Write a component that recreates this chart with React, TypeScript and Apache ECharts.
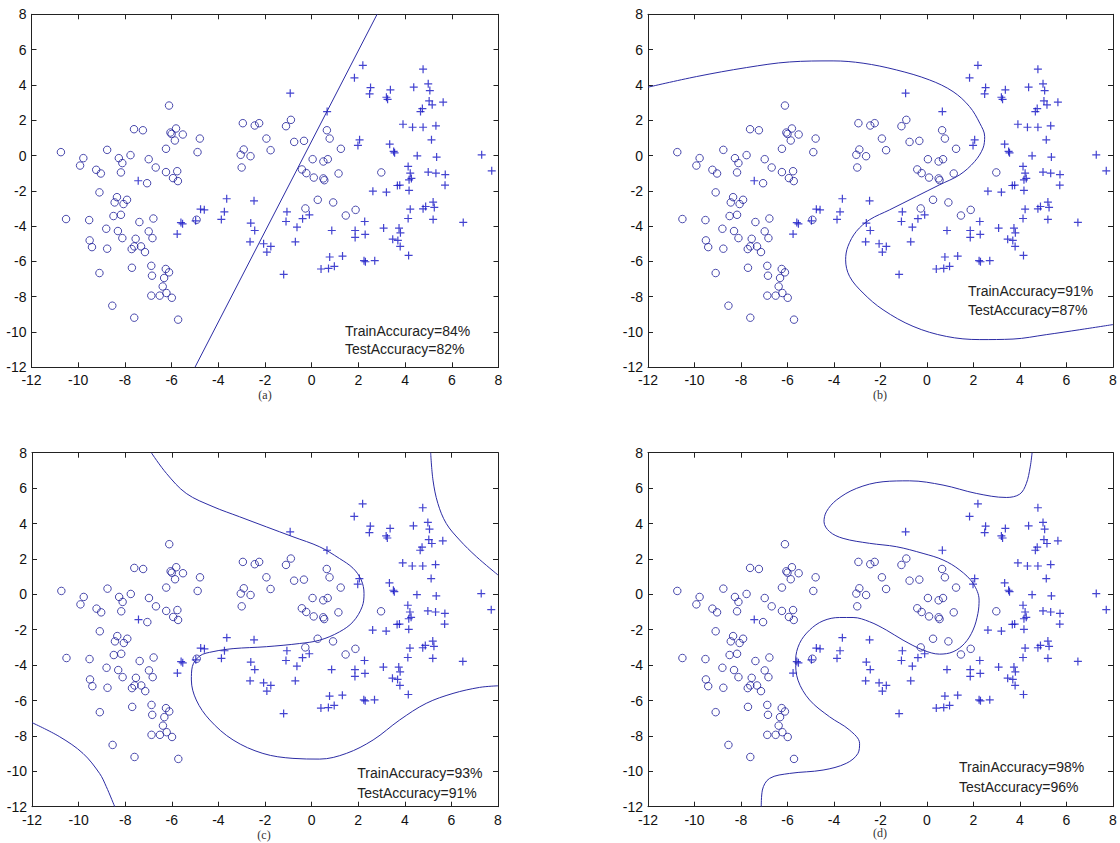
import React, { useEffect, useRef } from "react";
import * as echarts from "echarts";

// ---- data ----
const CIRCLES: [number, number][] = [
  [-10.74, 0.19], [-10.52, -3.6], [-9.78, -0.15], [-9.92, -0.57], [-9.23, -0.81], [-9.03, -1.02],
  [-8.76, 0.32], [-9.09, -2.09], [-9.53, -3.66], [-9.51, -4.81], [-9.41, -5.19], [-9.09, -6.66],
  [-8.54, -8.51], [-8.76, -5.28], [-8.8, -4.15], [-8.49, -3.43], [-8.34, -2.36], [-8.44, -2.66],
  [-8.17, -3.36], [-8.06, -2.75], [-7.91, -2.51], [-8.3, -4.28], [-8.11, -4.68], [-8.26, -0.15],
  [-8.11, -0.43], [-8.17, -0.96], [-7.76, 0.02], [-7.61, 1.49], [-7.23, 1.43], [-6.98, -0.21],
  [-6.68, -0.68], [-7.05, -1.57], [-7.38, -3.77], [-6.78, -3.57], [-6.98, -4.3], [-6.82, -4.68],
  [-7.54, -4.72], [-7.6, -5.15], [-7.71, -5.3], [-7.31, -5.15], [-7.14, -5.47], [-7.7, -6.36],
  [-6.87, -6.25], [-6.84, -6.81], [-6.87, -7.94], [-6.51, -7.94], [-6.38, -7.42], [-6.32, -6.94],
  [-6.25, -6.43], [-6.11, -6.62], [-6.22, -7.79], [-5.99, -8.06], [-7.6, -9.19], [-5.72, -9.3],
  [-6.11, 2.83], [-6.05, 1.3], [-6.0, 1.22], [-5.81, 1.53], [-5.52, 1.19], [-5.86, 0.85],
  [-6.24, 0.38], [-6.24, -0.94], [-5.76, -0.89], [-5.94, -1.28], [-5.73, -1.45], [-4.79, 0.96],
  [-4.89, 0.19], [-4.93, -3.64], [-2.95, 1.83], [-2.91, 0.34], [-3.04, 0.04], [-2.62, -0.04],
  [-3.0, -0.68], [-2.44, 1.7], [-2.25, 1.83], [-1.94, 0.96], [-1.76, 0.3], [-1.1, 1.66],
  [-0.89, 2.02], [-0.75, 0.77], [-0.33, 0.83], [0.04, -0.21], [-0.42, -0.79], [-0.23, -1.0],
  [0.09, -1.25], [0.5, -0.34], [0.69, -0.21], [0.54, -1.4], [0.5, -1.3], [0.65, 1.43],
  [0.77, 0.96], [1.25, 0.38], [1.15, -1.02], [-0.27, -3.0], [0.26, -2.51], [0.92, -2.66],
  [1.46, -3.4], [1.88, -3.08], [2.98, -0.96],
];

const PLUSES: [number, number][] = [
  [-7.43, -1.43], [-5.76, -4.45], [-5.53, -3.87], [-5.6, -3.8], [-4.97, -3.7], [-4.76, -3.04],
  [-4.6, -3.08], [-3.87, -3.62], [-3.74, -3.19], [-3.64, -2.45], [-2.47, -2.57], [-2.61, -3.83],
  [-2.44, -4.25], [-2.64, -4.89], [-2.06, -5.0], [-1.92, -5.47], [-1.75, -5.15], [-1.2, -6.74],
  [-1.06, -3.19], [-1.1, -3.74], [-0.63, -4.06], [-0.7, -4.89], [-0.39, -3.58], [-0.1, -3.36],
  [-0.92, 3.53], [0.66, 2.49], [0.86, -4.25], [0.77, -5.75], [1.32, -5.7], [0.4, -6.43],
  [0.72, -6.4], [0.97, -6.28], [2.24, -5.96], [2.3, -6.02], [2.7, -5.96], [1.83, 4.4],
  [2.19, 5.11], [2.52, 3.85], [2.48, 3.49], [3.2, 3.3], [3.25, 3.18], [3.37, 3.72],
  [4.37, 3.87], [4.77, 4.89], [4.99, 4.06], [5.06, 3.68], [5.03, 3.09], [5.16, 2.87],
  [5.63, 3.02], [4.66, 2.49], [4.74, 2.66], [3.91, 1.77], [4.32, 1.6], [4.77, 1.6],
  [5.32, 1.68], [5.13, 0.89], [2.05, 0.89], [1.98, 0.57], [3.34, 0.64], [3.51, 0.23],
  [3.55, 0.15], [4.52, -0.02], [5.35, -0.09], [4.13, -0.62], [4.22, -1.0], [4.99, -0.94],
  [5.32, -1.0], [5.72, -1.08], [4.17, -1.38], [4.27, -1.3], [3.67, -1.7], [3.77, -1.68],
  [4.17, -1.98], [5.71, -1.68], [2.62, -2.02], [3.2, -2.08], [4.22, -3.04], [4.77, -3.02],
  [4.88, -2.89], [5.2, -2.64], [5.25, -2.94], [4.13, -3.57], [5.2, -3.62], [6.49, -3.79],
  [7.28, 0.04], [7.71, -0.87], [2.27, -3.74], [1.86, -4.25], [2.29, -4.47], [1.86, -4.64],
  [3.08, -4.11], [3.74, -4.11], [3.8, -4.38], [3.47, -4.74], [3.69, -4.81], [3.79, -5.15],
  [4.15, -5.66],
];

// decision boundaries
const BOUNDARY_A: [number, number][] = [[-5.0, -12], [2.8, 8]];

const BOUNDARY_B: [number, number][] = [
  [-12, 3.87], [-9.92, 4.47], [-7.77, 4.98], [-5.91, 5.3], [-4.04, 5.36], [-2.75, 5.23],
  [-1.32, 4.85], [0.11, 4.28], [1.12, 3.62], [1.83, 2.77], [2.27, 1.83], [2.48, 1.08],
  [2.41, 0.42], [2.05, -0.34], [1.41, -1.09], [0.54, -1.66], [-0.46, -2.32], [-1.61, -3.08],
  [-2.47, -3.64], [-3.04, -4.3], [-3.4, -5.15], [-3.5, -5.91], [-3.33, -6.85], [-2.75, -7.79],
  [-1.89, -8.74], [-0.6, -9.68], [0.83, -10.25], [2.27, -10.43], [3.7, -10.4], [5.13, -10.15],
  [6.57, -9.87], [8, -9.58],
];

const BOUNDARY_C1: [number, number][] = [
  [-6.88, 8], [-6.23, 6.83], [-5.38, 5.7], [-4.23, 4.95], [-3.09, 4.38], [-1.94, 3.81],
  [-0.8, 3.25], [0.35, 2.68], [1.2, 2.02], [1.78, 1.47], [2.13, 0.81], [2.25, 0.05],
  [2.17, -0.7], [1.78, -1.55], [1.2, -2.12], [0.35, -2.59], [-0.51, -2.78], [-1.94, -2.96],
  [-3.37, -3.07], [-4.23, -3.24], [-4.8, -3.48], [-5.12, -4.09], [-5.16, -4.84], [-4.95, -5.97],
  [-4.37, -7.1], [-3.37, -8.23], [-2.09, -8.99], [-0.8, -9.27], [0.35, -9.31], [1.49, -8.99],
  [2.64, -8.23], [3.78, -7.1], [4.92, -6.16], [6.07, -5.6], [7.21, -5.26], [8, -5.17],
];
const BOUNDARY_C2: [number, number][] = [
  [5.11, 8], [5.21, 6.45], [5.42, 5.13], [5.78, 4.0], [6.35, 3.07], [7.07, 2.13], [8, 1.09],
];
const BOUNDARY_C3: [number, number][] = [
  [-12, -7.25], [-10.81, -8.05], [-9.81, -8.99], [-9.1, -10.12], [-8.81, -10.87], [-8.45, -12],
];

const BOUNDARY_D: [number, number][] = [
  [4.52, 8], [4.44, 7.2], [4.27, 6.25], [3.99, 5.66], [3.41, 5.47], [2.12, 5.7], [0.69, 6.17],
  [-0.75, 6.41], [-1.89, 6.36], [-3.04, 5.98], [-3.9, 5.32], [-4.33, 4.66], [-4.43, 4.1],
  [-4.19, 3.54], [-3.61, 3.16], [-2.47, 2.88], [-1.32, 2.69], [-0.17, 2.31], [0.69, 1.94],
  [1.41, 1.37], [1.98, 0.62], [2.24, -0.33], [2.19, -1.08], [1.98, -2.02], [1.62, -2.77],
  [1.12, -3.25], [0.54, -3.38], [-0.17, -3.15], [-1.03, -2.59], [-1.75, -2.02], [-2.47, -1.55],
  [-3.18, -1.31], [-3.76, -1.31], [-4.47, -1.5], [-5.05, -2.02], [-5.48, -2.77], [-5.65, -3.72],
  [-5.55, -4.85], [-5.05, -5.97], [-4.19, -6.92], [-3.33, -7.67], [-2.9, -8.42], [-2.97, -8.99],
  [-3.47, -9.55], [-4.47, -9.93], [-5.91, -10.12], [-6.77, -10.4], [-7.08, -11.06], [-7.13, -12],
];

const PANEL_BOUNDARIES: [number, number][][][] = [
  [BOUNDARY_A],
  [BOUNDARY_B],
  [BOUNDARY_C1, BOUNDARY_C2, BOUNDARY_C3],
  [BOUNDARY_D],
];

const PANEL_LABELS = ["(a)", "(b)", "(c)", "(d)"];
const TRAIN_ACC = [84, 91, 93, 98];
const TEST_ACC = [82, 87, 91, 96];

const AXIS_MIN = -12;
const AXIS_MAX = 8;
const AXIS_STEP = 2;

// ---- layout ----
const GRIDS = [
  { left: 31.5, top: 14.3, width: 467, height: 353 },
  { left: 648, top: 14.3, width: 465, height: 353 },
  { left: 32, top: 452.7, width: 466, height: 354 },
  { left: 648, top: 452.7, width: 465, height: 354 },
];
const ACC_TEXT_POS = [
  { x: 345, y1: 330.7, y2: 349.3 },
  { x: 968, y1: 291, y2: 310.3 },
  { x: 357.3, y1: 773.3, y2: 793.3 },
  { x: 959, y1: 767.3, y2: 786.7 },
];
const PANEL_LABEL_POS = [
  { x: 265, y: 395 },
  { x: 880, y: 395 },
  { x: 264, y: 835 },
  { x: 880, y: 833 },
];

const AXIS_COLOR = "#222";
const CIRCLE_COLOR = "#1e1e98";
const PLUS_COLOR = "#1414c4";
const LINE_COLOR = "#2c2ca4";
const FONT = "'Liberation Sans', Arial, sans-serif";

function buildOption() {
  const grid: any[] = [];
  const xAxis: any[] = [];
  const yAxis: any[] = [];
  const series: any[] = [];
  const graphic: any[] = [];

  GRIDS.forEach((g, i) => {
    grid.push({ ...g, containLabel: false, show: false });
    const base = {
      gridIndex: i,
      type: "value",
      min: AXIS_MIN,
      max: AXIS_MAX,
      interval: AXIS_STEP,
      splitLine: { show: false },
      axisLine: { show: true, onZero: false, lineStyle: { color: AXIS_COLOR, width: 1 } },
      axisTick: { show: true, inside: true, length: 5, lineStyle: { color: AXIS_COLOR } },
    };
    xAxis.push({
      ...base,
      position: "bottom",
      axisLabel: { show: true, margin: 6, color: "#111", fontSize: 14, fontFamily: FONT, showMinLabel: true, showMaxLabel: true },
    });
    xAxis.push({ ...base, position: "top", axisLabel: { show: false } });
    yAxis.push({
      ...base,
      position: "left",
      axisLabel: { show: true, margin: 5, color: "#111", fontSize: 14, fontFamily: FONT, showMinLabel: true, showMaxLabel: true },
    });
    yAxis.push({ ...base, position: "right", axisLabel: { show: false } });

    const xi = i * 2;
    const yi = i * 2;
    series.push({
      type: "scatter",
      xAxisIndex: xi,
      yAxisIndex: yi,
      data: CIRCLES,
      symbol: "circle",
      symbolSize: 7.5,
      itemStyle: { color: "rgba(0,0,0,0)", borderColor: CIRCLE_COLOR, borderWidth: 1 },
      emphasis: { disabled: true },
      silent: true,
    });
    series.push({
      type: "scatter",
      xAxisIndex: xi,
      yAxisIndex: yi,
      data: PLUSES,
      symbol: "path://M0,5L10,5M5,0L5,10",
      symbolSize: 8,
      itemStyle: { color: "rgba(0,0,0,0)", borderColor: PLUS_COLOR, borderWidth: 1.2 },
      emphasis: { disabled: true },
      silent: true,
    });
    PANEL_BOUNDARIES[i].forEach((b) => {
      series.push({
        type: "line",
        xAxisIndex: xi,
        yAxisIndex: yi,
        data: b,
        showSymbol: false,
        smooth: b.length > 2 ? 0.35 : false,
        clip: true,
        lineStyle: { color: LINE_COLOR, width: 1 },
        silent: true,
      });
    });

    const tp = ACC_TEXT_POS[i];
    graphic.push({
      type: "text",
      x: tp.x,
      y: tp.y1,
      style: { text: `TrainAccuracy=${TRAIN_ACC[i]}%`, fill: "#222", fontSize: 14, fontFamily: FONT, align: "left", verticalAlign: "middle" },
    });
    graphic.push({
      type: "text",
      x: tp.x,
      y: tp.y2,
      style: { text: `TestAccuracy=${TEST_ACC[i]}%`, fill: "#222", fontSize: 14, fontFamily: FONT, align: "left", verticalAlign: "middle" },
    });
    const lp = PANEL_LABEL_POS[i];
    graphic.push({
      type: "text",
      x: lp.x,
      y: lp.y,
      style: { text: PANEL_LABELS[i], fill: "#333", fontSize: 12, fontFamily: "'Liberation Serif', 'DejaVu Serif', serif", align: "center", verticalAlign: "middle" },
    });
  });

  return {
    animation: false,
    backgroundColor: "#ffffff",
    grid,
    xAxis,
    yAxis,
    series,
    graphic,
  };
}

export default function App() {
  const ref = useRef<HTMLDivElement>(null);
  useEffect(() => {
    document.body.style.margin = "0";
    if (!ref.current) return;
    const chart = echarts.init(ref.current, undefined, { renderer: "svg" });
    chart.setOption(buildOption() as any);
    return () => chart.dispose();
  }, []);
  return <div ref={ref} style={{ width: 1120, height: 843 }} />;
}
